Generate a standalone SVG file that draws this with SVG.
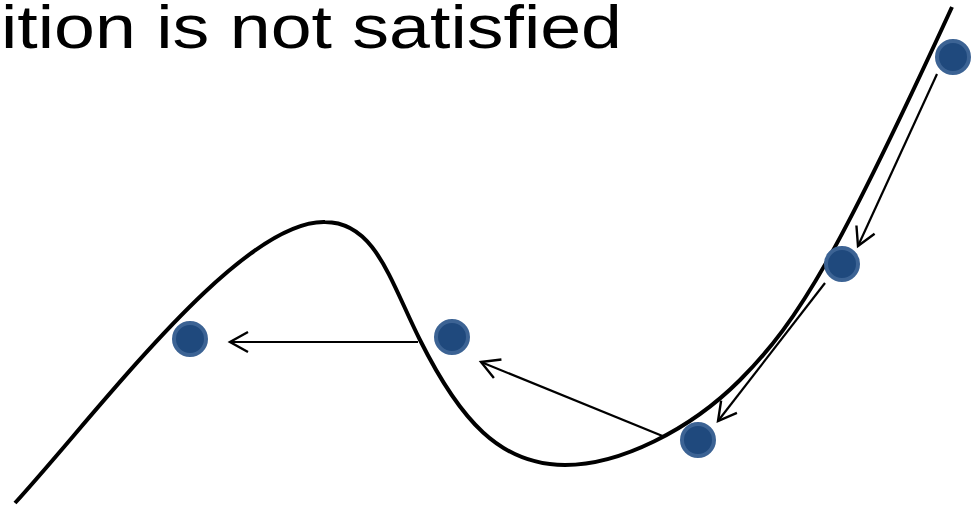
<svg xmlns="http://www.w3.org/2000/svg" width="976" height="506" viewBox="0 0 976 506">
<style>
.title{font-family:"Liberation Sans","Open Sans",sans-serif;font-size:62px;fill:#000}
.curve{fill:none;stroke:#000;stroke-width:4;stroke-linecap:butt}
.conn{fill:none;stroke:#000;stroke-width:2.2}
.dot{fill:#1F497D;stroke:#3C6394;stroke-width:4}
</style>
<defs>
<marker id="arr" markerUnits="userSpaceOnUse" markerWidth="26" markerHeight="26" refX="21" refY="12" orient="auto" viewBox="0 0 26 24">
<path d="M3,2 L21,12 L3,22" fill="none" stroke="#000" stroke-width="2.4"/>
</marker>
</defs>
<rect width="976" height="506" fill="#fff"/>
<text class="title" x="1" y="48" textLength="621" lengthAdjust="spacingAndGlyphs">ition is not satisfied</text>
<g id="curve">
<path class="curve" d="M15,503 C100,410 240,220 325,222 C375,222 390,280 420,340 C460,420 500,465 565,465 C620,465 690,430 740,380 C800,320 840,250 952,7"/>
</g>
<g id="connectors">
<line class="conn" x1="937" y1="74" x2="858" y2="246" marker-end="url(#arr)"/>
<line class="conn" x1="825" y1="283" x2="718" y2="421" marker-end="url(#arr)"/>
<line class="conn" x1="665" y1="437" x2="481" y2="362" marker-end="url(#arr)"/>
<line class="conn" x1="418" y1="342" x2="230" y2="342" marker-end="url(#arr)"/>
</g>
<g id="p1"><circle class="dot" cx="953" cy="57" r="16"/></g>
<g id="p2"><circle class="dot" cx="842" cy="264" r="16"/></g>
<g id="p3"><circle class="dot" cx="698" cy="440" r="16"/></g>
<g id="p4"><circle class="dot" cx="452" cy="337" r="16"/></g>
<g id="p5"><circle class="dot" cx="190" cy="339" r="16"/></g>
</svg>
